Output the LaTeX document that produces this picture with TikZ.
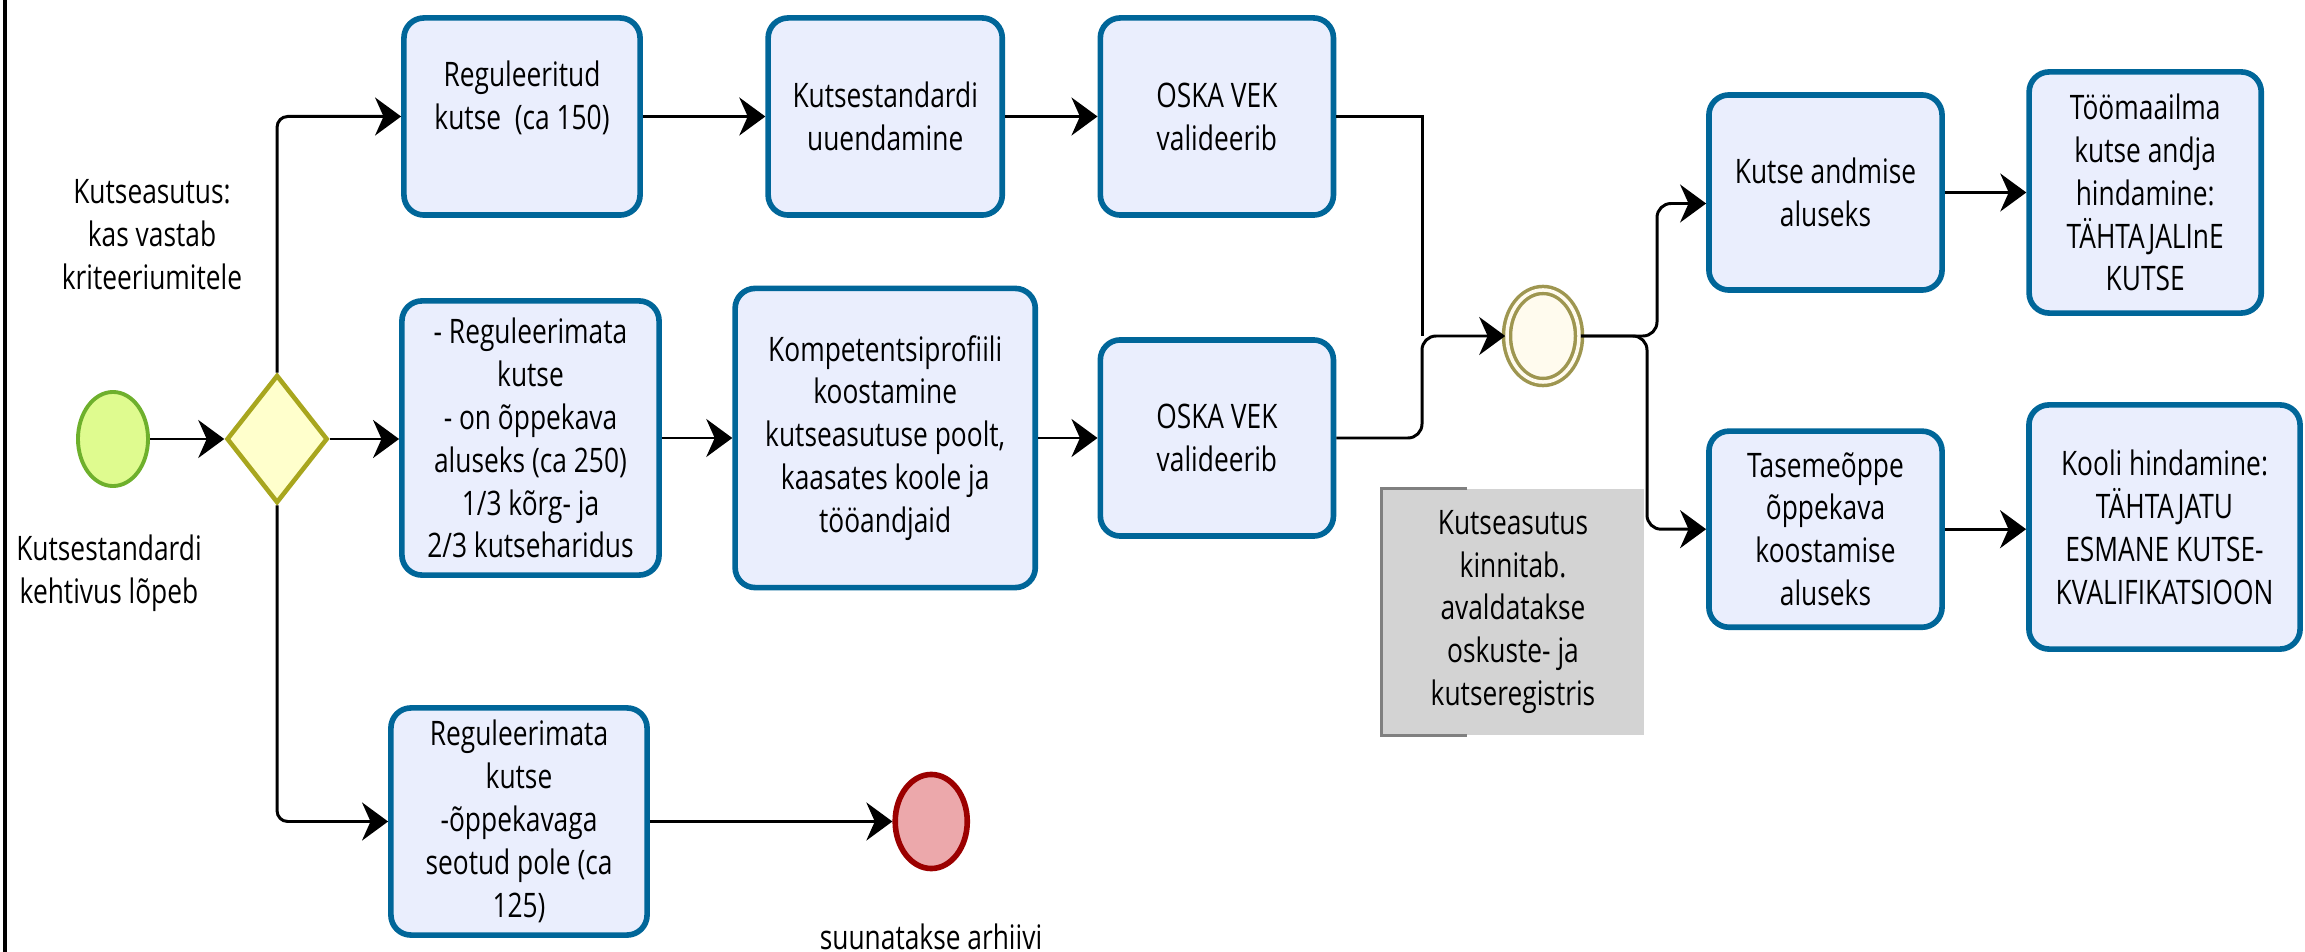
\documentclass[tikz,border=0pt]{standalone}
\usepackage{fontspec}
\setmainfont[FakeStretch=0.78]{Open Sans}
\usepackage{xcolor}
\usepackage{tikz}
\usetikzlibrary{shapes,arrows,arrows.meta}
\usetikzlibrary{positioning}
\definecolor{taskblue}{RGB}{0,102,153}
\definecolor{taskfill}{RGB}{234,238,253}
\definecolor{startfill}{RGB}{223,251,143}
\definecolor{startdraw}{RGB}{110,176,44}
\definecolor{gatefill}{RGB}{255,255,204}
\definecolor{gatedraw}{RGB}{168,166,30}
\definecolor{endfill}{RGB}{236,168,171}
\definecolor{enddraw}{RGB}{155,0,0}
\definecolor{midfill}{RGB}{255,251,238}
\definecolor{middraw}{RGB}{158,150,80}
\definecolor{notegray}{RGB}{211,211,211}
\definecolor{notedraw}{RGB}{128,128,128}
\tikzstyle{block} = [rectangle, draw=taskblue, fill=taskfill, line width=1.6pt,
    rounded corners=0.2cm, align=center, inner sep=0pt]
\tikzstyle{line} = [draw, line width=0.85pt,
    -{Stealth[length=7.4pt, width=10.8pt, inset=2.4pt]}]
\tikzstyle{edge} = [draw, line width=0.85pt, -]
\tikzstyle{startev} = [ellipse, draw=startdraw, fill=startfill, line width=1.1pt,
    inner sep=0pt, minimum width=0.70cm, minimum height=0.94cm]
\tikzstyle{endev} = [ellipse, draw=enddraw, fill=endfill, line width=1.6pt,
    inner sep=0pt, minimum width=0.72cm, minimum height=0.94cm]
\tikzstyle{midev} = [ellipse, draw=middraw, double=midfill, double distance=0.035cm,
    line width=0.035cm, fill=midfill, inner sep=0pt,
    minimum width=0.72cm, minimum height=0.92cm]
\tikzstyle{gateway} = [diamond, draw=gatedraw, fill=gatefill, line width=1.3pt,
    inner sep=0pt, minimum width=1.01cm, minimum height=1.28cm]
\tikzstyle{note} = [rectangle, fill=notegray, align=center, inner sep=0pt,
    minimum width=2.62cm, minimum height=2.46cm]
\tikzstyle{bracket} = [draw=notedraw, line width=0.03cm]
\tikzstyle{lbl} = [align=center, inner sep=0pt]

\begin{document}
\begin{tikzpicture}[x=0.01cm, y=-0.01cm,
    every node/.style={font=\fontsize{9.6pt}{12.2pt}\selectfont}]
  \useasboundingbox (0,0) rectangle (2305,952);
  \draw [line width=0.03cm] (5,0) -- (5,952);

  % Place nodes
  \node [startev] (start) at (113,439) {};
  \node [gateway, right of=start, node distance=1.64cm] (gw) {};
  \node [lbl] (asks) at (152,235) {Kutseasutus:\\kas vastab\\kriteeriumitele};
  \node [lbl] (expiry) at (109,573) {Kutsestandardi\\kehtivus lõpeb};

  \node [block, minimum width=2.36cm, minimum height=1.97cm] (regul) at (522,116.5)
        {Reguleeritud\\kutse~ (ca 150)\\\mbox{}};
  \node [block, right of=regul, node distance=3.63cm, minimum width=2.34cm,
         minimum height=1.97cm] (renew) {Kutsestandardi\\uuendamine};
  \node [block, right of=renew, node distance=3.315cm, minimum width=2.33cm,
         minimum height=1.97cm] (oskaup) {OSKA VEK\\valideerib};

  \node [block, minimum width=2.57cm, minimum height=2.74cm] (unreg) at (530.5,438)
        {- Reguleerimata\\kutse\\- on õppekava\\aluseks (ca 250)\\1/3 kõrg- ja\\2/3 kutseharidus};
  \node [block, right of=unreg, node distance=3.545cm, minimum width=3.00cm,
         minimum height=2.99cm] (profile)
        {Kompetentsiprofiili\\koostamine\\kutseasutuse poolt,\\kaasates koole ja\\tööandjaid};
  \node [block, right of=profile, node distance=3.315cm, minimum width=2.33cm,
         minimum height=1.96cm] (oskadown) {OSKA VEK\\valideerib};

  \node [block, minimum width=2.56cm, minimum height=2.27cm] (unlinked) at (519,821.5)
        {Reguleerimata\\kutse\\-õppekavaga\\seotud pole (ca\\125)};
  \node [endev, right of=unlinked, node distance=4.12cm] (archive) {};
  \node [lbl] (archivetext) at (931,937) {suunatakse arhiivi};

  \node [midev] (confirm) at (1543,336) {};
  \node [note] (register) at (1513,612)
        {Kutseasutus\\kinnitab.\\avaldatakse\\oskuste- ja\\kutseregistris};

  \node [block, minimum width=2.33cm, minimum height=1.95cm] (award) at (1825.5,192.5)
        {Kutse andmise\\aluseks};
  \node [block, right of=award, node distance=3.195cm, minimum width=2.32cm,
         minimum height=2.41cm] (workassess)
        {Töömaailma\\kutse andja\\hindamine:\\TÄHTAJALInE\\KUTSE};
  \node [block, below of=award, node distance=3.365cm, minimum width=2.33cm,
         minimum height=1.96cm] (curric)
        {Tasemeõppe\\õppekava\\koostamise\\aluseks};
  \node [block, minimum width=2.71cm, minimum height=2.44cm] (school) at (2164.5,527)
        {Kooli hindamine:\\TÄHTAJATU\\ESMANE KUTSE-\\KVALIFIKATSIOON};

  \coordinate (merge) at (1422,336);
  \coordinate (splitup) at (1657,336);
  \coordinate (splitdown) at (1647,336);

  % Draw edges
  \path [line] (start) -- (gw);
  \path [line, rounded corners=3pt] (gw.north) |- (regul.west);
  \path [line] (gw.east) -- (gw.east -| unreg.west);
  \path [line, rounded corners=3pt] (gw.south) |- (unlinked.west);
  \path [line] (regul) -- (renew);
  \path [line] (renew) -- (oskaup);
  \path [line] (unreg.east) -- (unreg.east -| profile.west);
  \path [line] (profile) -- (oskadown);
  \path [line] (unlinked.east) -- (unlinked.east -| archive.west);
  % Merge into the intermediate event
  \path [edge] (oskaup.east) -| (merge);
  \path [line, rounded corners=4pt] (oskadown.east) -| (merge) -- (confirm.west);
  % Split after it
  \path [line, rounded corners=4pt] (confirm.east) -- (splitup) |- ([yshift=-0.11cm]award.west);
  \path [line, rounded corners=4pt] (confirm.east) -- (splitdown) |- (curric.west);
  \path [line] (award) -- (workassess);
  \path [line] (curric.east) -- (curric.east -| school.west);
  % Annotation bracket
  \path [bracket] ([xshift=0.86cm]register.north west) -- (register.north west)
        -- (register.south west) -- ([xshift=0.86cm]register.south west);
\end{tikzpicture}
\end{document}
